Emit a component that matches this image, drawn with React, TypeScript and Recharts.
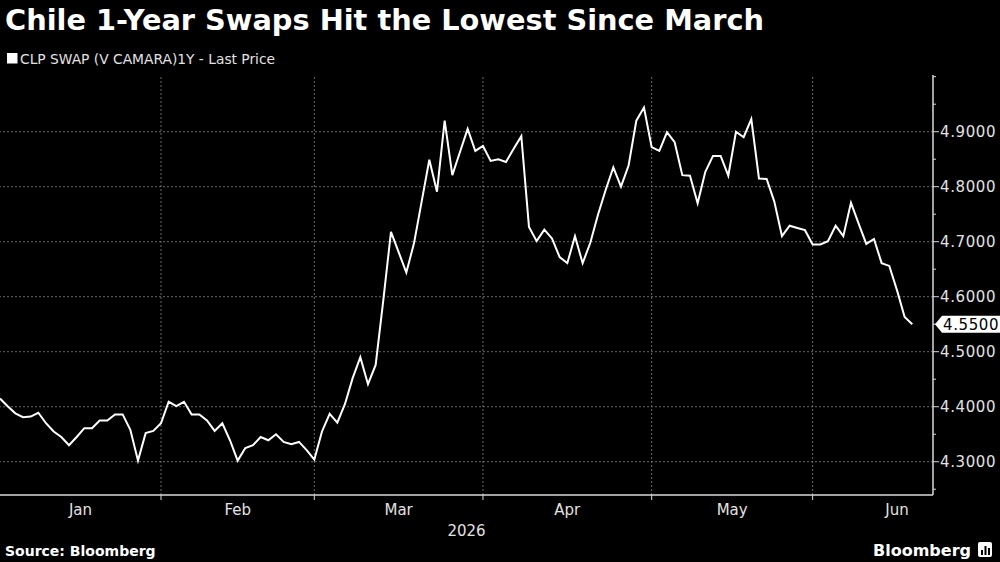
import React from 'react';
import { LineChart, Line, XAxis, YAxis, ReferenceLine } from 'recharts';

// CLP SWAP (V CAMARA) 1Y, last price, one value per weekday starting 2 Jan 2026
const FIRST_DAY = '2026-01-02';
const swapRates: number[] = [
  // Jan
  4.415, 4.401, 4.388, 4.381, 4.382, 4.389, 4.370, 4.355, 4.345, 4.330, 4.345,
  4.361, 4.361, 4.375, 4.375, 4.386, 4.386, 4.358, 4.302, 4.352, 4.356,
  // Feb
  4.370, 4.409, 4.401, 4.409, 4.386, 4.386, 4.375, 4.356, 4.370, 4.339,
  4.302, 4.325, 4.330, 4.345, 4.339, 4.350, 4.336, 4.332, 4.336, 4.321,
  // Mar
  4.304, 4.355, 4.387, 4.371, 4.405, 4.452, 4.490, 4.441, 4.476, 4.594, 4.718,
  4.681, 4.644, 4.697, 4.773, 4.849, 4.791, 4.920, 4.821, 4.863, 4.905, 4.865,
  // Apr
  4.874, 4.847, 4.850, 4.845, 4.869, 4.892, 4.727, 4.701, 4.722, 4.706, 4.672,
  4.661, 4.710, 4.661, 4.698, 4.749, 4.794, 4.835, 4.800, 4.839, 4.920, 4.944,
  // May
  4.872, 4.865, 4.899, 4.881, 4.821, 4.820, 4.770, 4.827, 4.856, 4.856, 4.820,
  4.900, 4.890, 4.923, 4.815, 4.814, 4.773, 4.710, 4.729, 4.725, 4.721,
  // Jun
  4.695, 4.695, 4.701, 4.729, 4.710, 4.771, 4.733, 4.696, 4.705, 4.661,
  4.656, 4.612, 4.563, 4.550,
];

const monthNames = ['Jan', 'Feb', 'Mar', 'Apr', 'May', 'Jun'];
const yearLabel = '2026';
const yMajorTicks = [4.3, 4.4, 4.5, 4.6, 4.7, 4.8, 4.9];
const yMinorTicks = [4.25, 4.35, 4.45, 4.55, 4.65, 4.75, 4.85, 4.95, 5.0];
const lastPrice = swapRates[swapRates.length - 1];

const Y_DOMAIN: [number, number] = [4.2395, 5.0031];
const X_MAX = 121.7;

const FONT = '"DejaVu Sans", sans-serif';
const GRID = '#6a6a6a';
const AXIS = '#d8d8d8';
const LABEL = '#e2e2e2';

function tradingDays(start: string, count: number): Date[] {
  const out: Date[] = [];
  const d = new Date(start + 'T00:00:00Z');
  while (out.length < count) {
    const wd = d.getUTCDay();
    if (wd !== 0 && wd !== 6) out.push(new Date(d.getTime()));
    d.setUTCDate(d.getUTCDate() + 1);
  }
  return out;
}

function weekdaysInMonth(year: number, month: number): number {
  let n = 0;
  const d = new Date(Date.UTC(year, month, 1));
  while (d.getUTCMonth() === month) {
    const wd = d.getUTCDay();
    if (wd !== 0 && wd !== 6) n++;
    d.setUTCDate(d.getUTCDate() + 1);
  }
  return n;
}

const days = tradingDays(FIRST_DAY, swapRates.length);
const data = swapRates.map((rate, i) => ({ i, rate }));

// index of the first trading day of each new month
const monthStarts: number[] = [];
days.forEach((d, i) => {
  if (i > 0 && d.getUTCMonth() !== days[i - 1].getUTCMonth()) monthStarts.push(i);
});

// month names sit in the middle of each month's span
const monthLabelPos = monthNames.map((_, m) => {
  const start = m === 0 ? 0 : monthStarts[m - 1];
  const end = m < monthStarts.length ? monthStarts[m] : start + weekdaysInMonth(2026, m);
  return (start + end) / 2;
});

const xTicks = [...monthStarts, ...monthLabelPos];
const yTicks = [...yMinorTicks.filter((t) => Math.abs(t - lastPrice) > 1e-9), ...yMajorTicks, lastPrice];

const XTick = (props: any) => {
  const { x, y, payload } = props;
  const v = payload.value;
  if (monthStarts.indexOf(v) >= 0) {
    return <line x1={x} x2={x} y1={y} y2={y + 5} stroke={AXIS} strokeWidth={1} />;
  }
  const li = monthLabelPos.indexOf(v);
  return (
    <text x={x} y={y + 20} textAnchor="middle" fill={LABEL} fontSize={15} fontFamily={FONT}>
      {monthNames[li]}
    </text>
  );
};

const YTick = (props: any) => {
  const { x, y, payload } = props;
  const v = payload.value as number;
  const isMajor = yMajorTicks.some((t) => Math.abs(t - v) < 1e-9);
  const isLast = Math.abs(v - lastPrice) < 1e-9;
  return (
    <g>
      <line x1={x} x2={x + (isMajor ? 6 : 3)} y1={y} y2={y} stroke={AXIS} strokeWidth={1} />
      {isMajor && (
        <text x={x + 7} y={y + 5.5} fill={LABEL} fontSize={15} fontFamily={FONT} letterSpacing={0.6}>
          {v.toFixed(4)}
        </text>
      )}
      {isLast && (
        <g>
          <polygon
            points={`${x + 2},${y} ${x + 9},${y - 8.5} ${x + 67},${y - 8.5} ${x + 67},${y + 8.5} ${x + 9},${y + 8.5}`}
            fill="#ffffff"
          />
          <text x={x + 10} y={y + 5.5} fill="#000000" fontSize={15} fontFamily={FONT} letterSpacing={0.6}>
            {v.toFixed(4)}
          </text>
        </g>
      )}
    </g>
  );
};

export default function App() {
  return (
    <div
      style={{
        position: 'absolute',
        left: 0,
        top: 0,
        width: 1000,
        height: 562,
        background: '#000000',
        overflow: 'hidden',
      }}
    >
      <div style={{ position: 'absolute', left: 0, top: 0 }}>
        <LineChart width={1000} height={562} data={data} margin={{ top: 75, right: 0, bottom: 0, left: 0 }}>
          {yMajorTicks.map((t) => (
            <ReferenceLine key={'h' + t} y={t} stroke={GRID} strokeDasharray="2 2" strokeWidth={1} />
          ))}
          {monthStarts.map((t) => (
            <ReferenceLine key={'v' + t} x={t} stroke={GRID} strokeDasharray="2 2" strokeWidth={1} />
          ))}
          <XAxis
            dataKey="i"
            type="number"
            domain={[0, X_MAX]}
            allowDataOverflow
            ticks={xTicks}
            interval={0}
            height={67}
            tickSize={0}
            tickMargin={0}
            tickLine={false}
            axisLine={{ stroke: AXIS, strokeWidth: 1.5 }}
            tick={(p: any) => <XTick {...p} />}
            label={{
              value: yearLabel,
              position: 'insideBottom',
              offset: 26,
              fill: LABEL,
              fontSize: 15,
              fontFamily: FONT,
            }}
          />
          <YAxis
            orientation="right"
            type="number"
            domain={Y_DOMAIN}
            allowDataOverflow
            ticks={yTicks}
            interval={0}
            width={67}
            tickSize={0}
            tickMargin={0}
            tickLine={false}
            axisLine={{ stroke: AXIS, strokeWidth: 1.5 }}
            tick={(p: any) => <YTick {...p} />}
          />
          <Line
            type="linear"
            dataKey="rate"
            stroke="#ffffff"
            strokeWidth={2}
            dot={false}
            activeDot={false}
            isAnimationActive={false}
          />
        </LineChart>
      </div>
      <svg
        width={1000}
        height={562}
        style={{ position: 'absolute', left: 0, top: 0, pointerEvents: 'none' }}
      >
        <text x={5} y={30} fill="#ffffff" fontSize={28.8} fontWeight="bold" fontFamily={FONT}>
          Chile 1-Year Swaps Hit the Lowest Since March
        </text>
        <rect x={7} y={53} width={10.5} height={10.5} fill="#ffffff" />
        <text x={20} y={64} fill={LABEL} fontSize={13.8} fontFamily={FONT}>
          CLP SWAP (V CAMARA)1Y - Last Price
        </text>
        <text x={5} y={556} fill="#ffffff" fontSize={14} fontWeight="bold" fontFamily={FONT}>
          Source: Bloomberg
        </text>
        <text x={971} y={556} textAnchor="end" fill="#ffffff" fontSize={16} fontWeight="bold" fontFamily={FONT}>
          Bloomberg
        </text>
        <rect x={978} y={542} width={14} height={15} rx={2} fill="#ffffff" />
        <rect x={981} y={550} width={2} height={5} fill="#000000" />
        <rect x={984.5} y={546} width={2} height={9} fill="#000000" />
        <rect x={988} y={548} width={2} height={7} fill="#000000" />
      </svg>
    </div>
  );
}
